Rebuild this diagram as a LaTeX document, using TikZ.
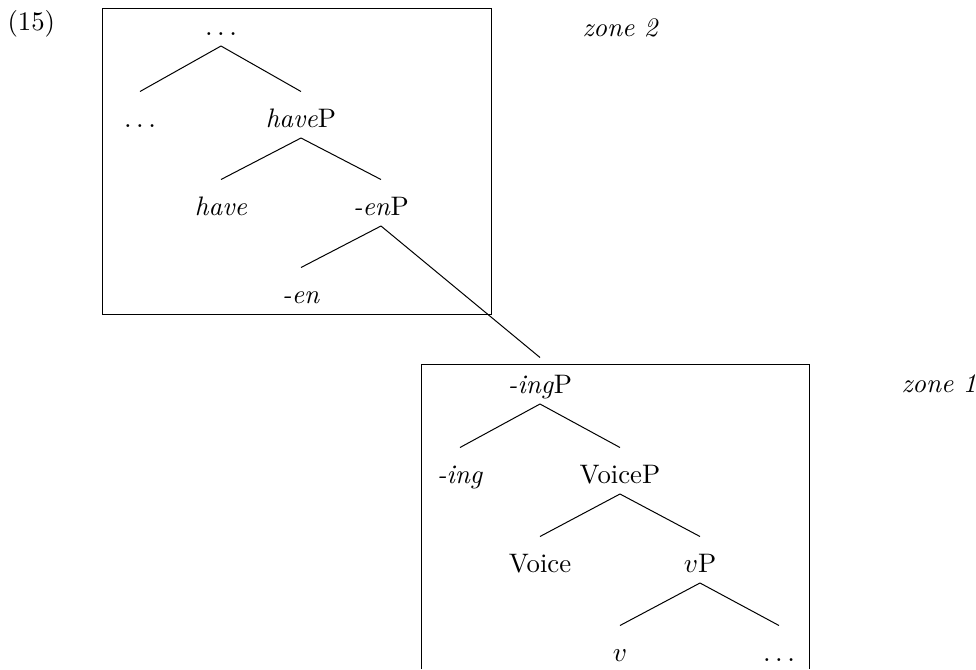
\documentclass[tikz,border=0pt]{standalone}
\begin{document}
\begin{tikzpicture}[x=0.4pt,y=-0.4pt,
  every node/.style={font=\fontsize{10.7}{13}\selectfont},
  tn/.style={anchor=base,inner sep=0pt,text height=14pt,text depth=4.2pt},
  lbl/.style={anchor=base west,inner sep=0pt},
  br/.style={line width=0.4pt},
  zonebox/.style={line width=0.4pt}]
\useasboundingbox (0,0) rectangle (976,669);
% boxes
\draw[zonebox] (102,8) rectangle (491,314);
\draw[zonebox] (421,669) -- (421,364) -- (809,364) -- (809,669);
% labels
\node[lbl] (ex) at (7,30) {(15)};
\node[lbl] (z2) at (582,36) {\textit{zone 2}};
\node[lbl] (z1) at (901,392) {\textit{zone 1}};
% zone 2 tree
\node[tn] (top) at (221,35) {$\ldots$};
\node[tn] (dl) at (140,127) {$\ldots$};
\node[tn] (haveP) at (301,127) {\textit{have}P};
\node[tn] (have) at (221,215) {\textit{have}};
\node[tn] (enP) at (381,215) {\textit{-en}P};
\node[tn] (en) at (301,303) {\textit{-en}};
% zone 1 tree
\node[tn] (ingP) at (540,393) {\textit{-ing}P};
\node[tn] (ing) at (460,483) {\textit{-ing}};
\node[tn] (VoiceP) at (620,483) {VoiceP};
\node[tn] (Voice) at (540,572) {Voice};
\node[tn] (vP) at (700,572) {$v$P};
\node[tn] (v) at (620,661) {$v$};
\node[tn] (dr) at (779,661) {$\ldots$};
% branches
\draw[br] (top.south) -- (dl.north);
\draw[br] (top.south) -- (haveP.north);
\draw[br] (haveP.south) -- (have.north);
\draw[br] (haveP.south) -- (enP.north);
\draw[br] (enP.south) -- (en.north);
\draw[br] (enP.south) -- (ingP.north);
\draw[br] (ingP.south) -- (ing.north);
\draw[br] (ingP.south) -- (VoiceP.north);
\draw[br] (VoiceP.south) -- (Voice.north);
\draw[br] (VoiceP.south) -- (vP.north);
\draw[br] (vP.south) -- (v.north);
\draw[br] (vP.south) -- (dr.north);
\end{tikzpicture}
\end{document}
